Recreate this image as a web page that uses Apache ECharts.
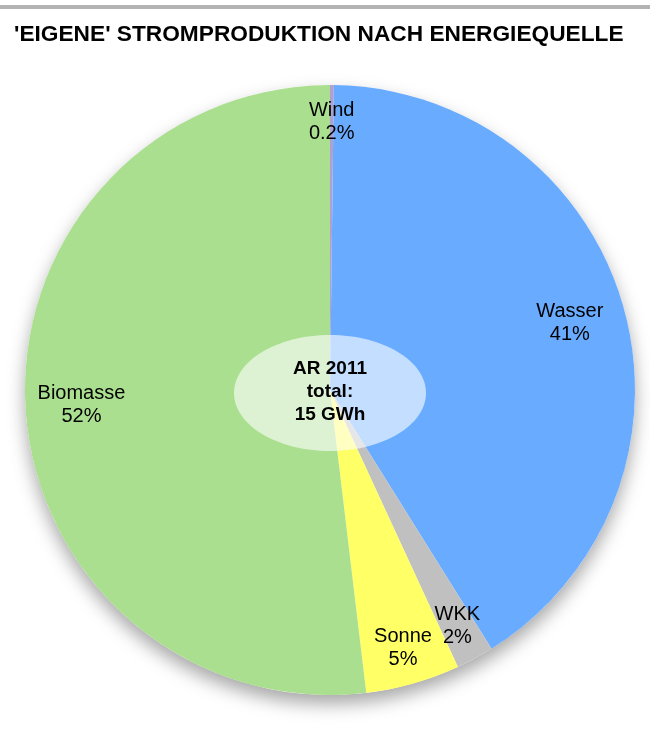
<!DOCTYPE html>
<html>
<head>
<meta charset="utf-8">
<script src="https://cdn.jsdelivr.net/npm/echarts@6/dist/echarts.min.js"></script>
<style>
  html, body { margin: 0; padding: 0; background: #fff; }
  #chart { width: 650px; height: 743px; }
</style>
</head>
<body>
<div id="chart"></div>
<script>
// data (percent of own production, AR 2011)
var categories = ['Wind', 'Wasser', 'WKK', 'Sonne', 'Biomasse'];
var shares = [0.2, 41, 2, 5, 52];
var shareLabels = ['0.2%', '41%', '2%', '5%', '52%'];
var colors = ['#b09fd0', '#69acff', '#c0c0c0', '#ffff66', '#abdf90'];
var centerText = ['AR 2011', 'total:', '15 GWh'];
// slices whose label sits further out towards the rim
var outerLabelCats = ['Wind', 'WKK', 'Sonne'];

var chart = echarts.init(document.getElementById('chart'));

var pieCenter = [330, 390];
var pieRadius = 305;

var data = categories.map(function (name, i) {
  return { name: name, value: shares[i], itemStyle: { color: colors[i] } };
});

function labelRing(outer) {
  return categories.map(function (name, i) {
    var show = (outerLabelCats.indexOf(name) >= 0) === outer;
    return {
      name: name,
      value: shares[i],
      label: { show: show, formatter: name + '\n' + shareLabels[i] }
    };
  });
}

var labelStyle = {
  position: 'inside',
  color: '#000',
  fontFamily: 'Liberation Sans, Arial, sans-serif',
  fontSize: 20,
  lineHeight: 23
};

function ringSeries(inner, outer) {
  return {
    type: 'pie',
    silent: true,
    center: pieCenter,
    radius: [inner, pieRadius],
    startAngle: 90,
    clockwise: true,
    itemStyle: { color: 'rgba(0,0,0,0)' },
    label: labelStyle,
    labelLine: { show: false },
    data: labelRing(outer),
    z: 3
  };
}

var option = {
  animation: false,
  title: {
    text: "'EIGENE' STROMPRODUKTION NACH ENERGIEQUELLE",
    left: 9,
    top: 18,
    textStyle: {
      fontFamily: 'Liberation Sans, Arial, sans-serif',
      fontSize: 22.7,
      fontWeight: 'bold',
      color: '#000'
    }
  },
  graphic: [
    {
      type: 'rect',
      shape: { x: 0, y: 5, width: 650, height: 4 },
      style: { fill: '#b3b3b3' },
      z: 1
    },
    {
      type: 'ellipse',
      shape: { cx: pieCenter[0], cy: pieCenter[1] + 3, rx: 96, ry: 58 },
      style: { fill: 'rgba(255,255,255,0.6)' },
      z: 10
    },
    {
      type: 'text',
      x: pieCenter[0],
      y: pieCenter[1] + 2,
      style: {
        text: centerText.join('\n'),
        fill: '#000',
        font: 'bold 19px "Liberation Sans", Arial, sans-serif',
        lineHeight: 23,
        align: 'center',
        verticalAlign: 'middle'
      },
      z: 11
    }
  ],
  series: [
    {
      // soft drop shadow under the pie
      type: 'pie',
      silent: true,
      center: pieCenter,
      radius: [0, pieRadius],
      label: { show: false },
      labelLine: { show: false },
      data: [{ value: 1, itemStyle: { color: '#fff' } }],
      itemStyle: {
        shadowBlur: 18,
        shadowOffsetY: 9,
        shadowColor: 'rgba(0,0,0,0.35)'
      },
      z: 1
    },
    {
      type: 'pie',
      silent: true,
      center: pieCenter,
      radius: [0, pieRadius],
      startAngle: 90,
      clockwise: true,
      label: { show: false },
      labelLine: { show: false },
      data: data,
      z: 2
    },
    ringSeries(187, false),
    ringSeries(225, true)
  ]
};

chart.setOption(option);
</script>
</body>
</html>
